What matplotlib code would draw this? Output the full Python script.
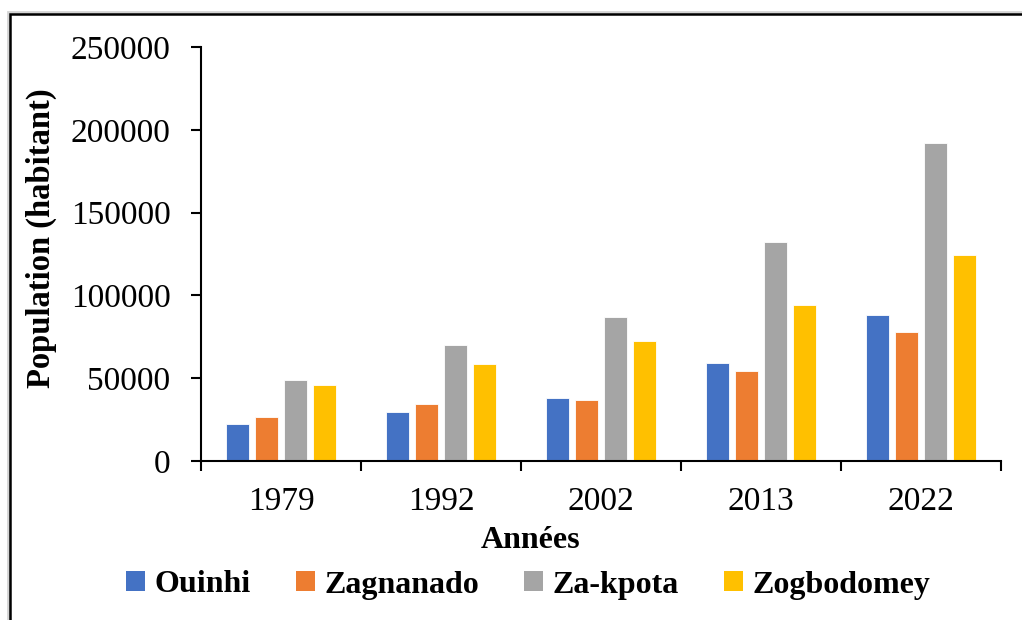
import numpy as np
import matplotlib
matplotlib.use('Agg')
import matplotlib.pyplot as plt
from matplotlib.patches import Patch, Rectangle

# data
years = ['1979', '1992', '2002', '2013', '2022']
communes = ['Ouinhi', 'Zagnanado', 'Za-kpota', 'Zogbodomey']
ouinhi = [22200, 29800, 38000, 59400, 87900]
zagnanado = [26400, 34200, 36800, 54600, 78100]
zakpota = [49100, 70200, 87200, 132300, 192300]
zogbodomey = [45900, 58600, 72300, 94000, 124200]
colors = ['#4472C4', '#ED7D31', '#A5A5A5', '#FFC000']

series = [ouinhi, zagnanado, zakpota, zogbodomey]

plt.rcParams['font.family'] = ['Liberation Serif', 'DejaVu Serif']

fig = plt.figure(figsize=(10.22, 6.2), dpi=100)
ax = fig.add_axes([201 / 1022, 1 - 461 / 620, 800 / 1022, 414 / 620])

x = np.arange(len(years))
pitch = 0.181
width = 0.144
for i, (vals, col) in enumerate(zip(series, colors)):
    ax.bar(x + (i - 1.5) * pitch, vals, width, color=col,
           edgecolor='white', linewidth=0.6, label=communes[i], zorder=2)

ax.set_xlim(-0.5, len(years) - 0.5)
ax.set_ylim(0, 250000)
ax.set_yticks(np.arange(0, 250001, 50000))
ax.set_yticklabels([str(v) for v in range(0, 250001, 50000)])
ax.set_xticks(x)
ax.set_xticklabels(years)
ax.set_xticks(np.arange(-0.5, len(years), 1.0), minor=True)

for s in ['top', 'right']:
    ax.spines[s].set_visible(False)
ax.spines['left'].set_linewidth(1.5)
ax.spines['bottom'].set_linewidth(1.5)

ax.tick_params(axis='y', direction='out', length=7, width=1.5, pad=15, labelsize=24)
ax.tick_params(axis='x', which='major', length=0, pad=18, labelsize=24)
ax.tick_params(axis='x', which='minor', direction='out', length=7, width=1.5)

ax.set_ylabel('Population (habitant)', fontsize=23.5, fontweight='bold', va='center')
ax.yaxis.set_label_coords(-0.199, 0.539)
ax.set_xlabel('Années', fontsize=23, fontweight='bold', va='center')
ax.xaxis.set_label_coords(0.4125, -0.191)

handles = [Patch(facecolor=c, edgecolor='none') for c in colors]
fig.legend(handles, communes, loc='center', bbox_to_anchor=(528 / 1022, 1 - 585 / 620),
           ncol=4, frameon=False, prop={'size': 23, 'weight': 'bold'},
           handlelength=0.6, handleheight=0.6, handletextpad=0.3, columnspacing=1.4)

# frame around the chart (left and top edges visible)
fig.add_artist(Rectangle((8 / 1022, -0.1), 1.2, 1.1 - 12 / 620, transform=fig.transFigure,
                         fill=False, edgecolor='#d4d4d4', linewidth=2, clip_on=False))
fig.add_artist(Rectangle((10 / 1022, -0.1), 1.2, 1.1 - 14 / 620, transform=fig.transFigure,
                         fill=False, edgecolor='black', linewidth=1.8, clip_on=False))

fig.savefig('out.png', dpi=100)
